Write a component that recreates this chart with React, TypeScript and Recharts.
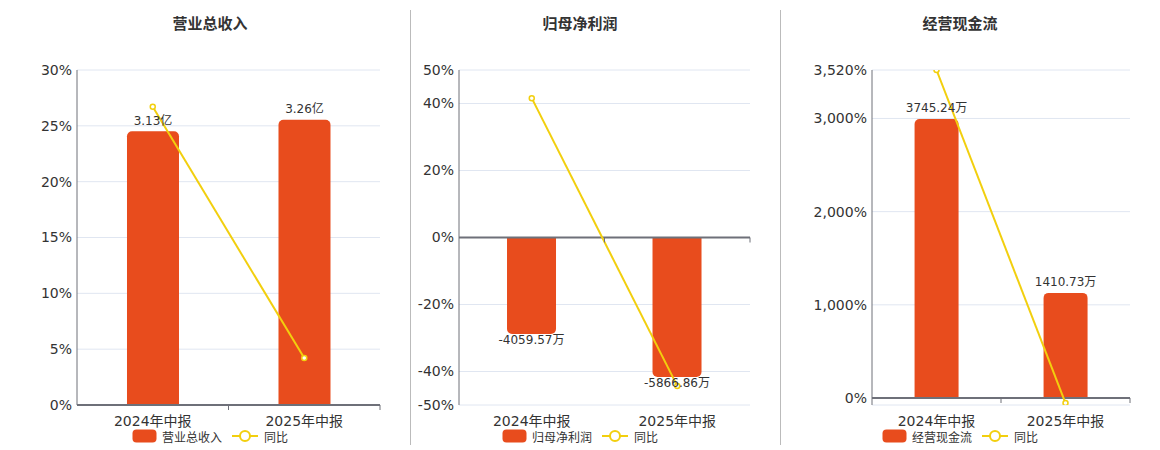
import React from 'react';
import { ComposedChart, Bar, Line, XAxis, YAxis, CartesianGrid, ReferenceLine, LabelList } from 'recharts';

const categories = ['2024年中报', '2025年中报'];

const revenue = [3.13, 3.26];
const revenueLabels = ['3.13亿', '3.26亿'];
const revenueYoy = [26.7, 4.2];
const revenueTicks = [0, 5, 10, 15, 20, 25, 30];

const profit = [-4059.57, -5866.86];
const profitLabels = ['-4059.57万', '-5866.86万'];
const profitYoy = [41.6, -44.3];
const profitTicks = [-50, -40, -20, 0, 20, 40, 50];

const cash = [3745.24, 1410.73];
const cashLabels = ['3745.24万', '1410.73万'];
const cashYoy = [3520, -54];
const cashTicks = [-75, 0, 1000, 2000, 3000, 3520];
const hiddenTickValues = [-75];

const BAR_COLOR = '#E84C1D';
const LINE_COLOR = '#F2CF0E';
const AXIS_COLOR = '#6E7079';
const GRID_COLOR = '#E0E6F1';
const TEXT_COLOR = '#333';

const PLOT_TOP = 70;
const PLOT_BOTTOM = 405;

const buildData = (bars: number[], yoy: number[]) =>
  categories.map((name, i) => ({ name, bar: bars[i], yoy: yoy[i] }));

const RoundedBar = (props: any) => {
  const { x, y, width, height, fill, payload } = props;
  if (width == null || height == null) return null;
  const top = Math.min(y, y + height);
  const h = Math.abs(height);
  const r = Math.min(5, h / 2, width / 2);
  const neg = payload && payload.bar < 0;
  const x2 = x + width;
  const b = top + h;
  let d: string;
  if (!neg) {
    d = `M${x},${b} L${x},${top + r} A${r},${r} 0 0 1 ${x + r},${top} L${x2 - r},${top} A${r},${r} 0 0 1 ${x2},${top + r} L${x2},${b} Z`;
  } else {
    d = `M${x},${top} L${x2},${top} L${x2},${b - r} A${r},${r} 0 0 1 ${x2 - r},${b} L${x + r},${b} A${r},${r} 0 0 1 ${x},${b - r} Z`;
  }
  return <path d={d} fill={fill} />;
};

const makeLabel = (labels: string[]) => (props: any) => {
  const { x, y, width, height, index, value } = props;
  const top = Math.min(y, y + height);
  const bottom = Math.max(y, y + height);
  const neg = value < 0;
  const ty = neg ? bottom + 10 : top - 6.5;
  return (
    <text x={x + width / 2} y={ty} textAnchor="middle" fontSize={12} fill={TEXT_COLOR}>
      {labels[index]}
    </text>
  );
};

const fmtPct = (v: number) => (hiddenTickValues.includes(v) ? '' : v.toLocaleString('en-US') + '%');

const XTick = (props: any) => {
  const { x, y, payload, width, visibleTicksCount, domain } = props;
  let band = 0;
  if (typeof width === 'number' && visibleTicksCount) band = width / visibleTicksCount;
  else if (payload && payload.offset) band = payload.offset * 2;
  const [min, max] = domain || [0, 1];
  const zeroY = PLOT_BOTTOM - ((0 - min) / (max - min)) * (PLOT_BOTTOM - PLOT_TOP);
  const bx = x + band / 2;
  return (
    <g>
      {band > 0 && (
        <line x1={bx} y1={zeroY} x2={bx} y2={zeroY + 5} stroke={AXIS_COLOR} strokeWidth={1} />
      )}
      <text x={x} y={y + 13} textAnchor="middle" fontSize={14} fill={TEXT_COLOR}>
        {payload.value}
      </text>
    </g>
  );
};

type PanelProps = {
  title: string;
  legendName: string;
  left: number;
  width: number;
  yWidth: number;
  center: number;
  data: any[];
  labels: string[];
  pctDomain: number[];
  pctTicks: number[];
  barDomain: number[];
};

const Legend = ({ name, center }: { name: string; center: number }) => (
  <div
    style={{
      position: 'absolute',
      left: center - 150,
      width: 300,
      top: 428,
      display: 'flex',
      justifyContent: 'center',
      alignItems: 'center',
      fontSize: 12,
      color: TEXT_COLOR,
      height: 16,
    }}
  >
    <svg width={25} height={14} style={{ marginRight: 5 }}>
      <rect x={0.5} y={0.5} width={24} height={13} rx={4} fill={BAR_COLOR} />
    </svg>
    <span style={{ marginRight: 10 }}>{name}</span>
    <svg width={26} height={14} style={{ marginRight: 6 }}>
      <line x1={0} y1={7} x2={26} y2={7} stroke={LINE_COLOR} strokeWidth={2} />
      <circle cx={13} cy={7} r={5} fill="#fff" stroke={LINE_COLOR} strokeWidth={2} />
    </svg>
    <span>同比</span>
  </div>
);

const Panel = (p: PanelProps) => (
  <>
    <div
      style={{
        position: 'absolute',
        left: p.center - 100,
        width: 200,
        top: 12,
        textAlign: 'center',
        fontSize: 15,
        fontWeight: 'bold',
        color: TEXT_COLOR,
      }}
    >
      {p.title}
    </div>
    <div style={{ position: 'absolute', left: p.left, top: 0 }}>
      <ComposedChart
        width={p.width}
        height={450}
        data={p.data}
        margin={{ top: PLOT_TOP, right: 30, bottom: 25, left: 0 }}
        barCategoryGap="33%"
      >
        <CartesianGrid vertical={false} stroke={GRID_COLOR} yAxisId="pct" />
        <XAxis
          dataKey="name"
          axisLine={false}
          tickLine={false}
          height={20}
          interval={0}
          tick={<XTick domain={p.pctDomain} />}
        />
        <YAxis
          yAxisId="pct"
          type="number"
          domain={p.pctDomain}
          ticks={p.pctTicks}
          allowDataOverflow
          width={p.yWidth}
          tickFormatter={fmtPct}
          axisLine={{ stroke: AXIS_COLOR }}
          tickLine={false}
          tickSize={0}
          tickMargin={5}
          tick={{ fontSize: 14, fill: TEXT_COLOR }}
        />
        <YAxis
          yAxisId="bar"
          orientation="right"
          type="number"
          domain={p.barDomain}
          allowDataOverflow
          hide
          width={0}
        />
        <ReferenceLine y={0} yAxisId="pct" stroke={AXIS_COLOR} strokeWidth={2} />
        <Bar
          dataKey="bar"
          yAxisId="bar"
          fill={BAR_COLOR}
          shape={<RoundedBar />}
          isAnimationActive={false}
        >
          <LabelList dataKey="bar" content={makeLabel(p.labels)} />
        </Bar>
        <Line
          dataKey="yoy"
          yAxisId="pct"
          type="linear"
          stroke={LINE_COLOR}
          strokeWidth={2}
          dot={{ r: 2.5, fill: '#fff', stroke: LINE_COLOR, strokeWidth: 1.5 }}
          activeDot={false}
          isAnimationActive={false}
        />
      </ComposedChart>
    </div>
    <Legend name={p.legendName} center={p.center} />
  </>
);

export default function App() {
  return (
    <div
      style={{
        position: 'absolute',
        left: 0,
        top: 0,
        width: 1160,
        height: 450,
        background: '#fff',
        fontFamily: "'DejaVu Sans', 'Noto Sans CJK SC', sans-serif",
      }}
    >
      <Panel
        title="营业总收入"
        legendName="营业总收入"
        left={0}
        width={410}
        yWidth={77}
        center={210}
        data={buildData(revenue, revenueYoy)}
        labels={revenueLabels}
        pctDomain={[0, 30]}
        pctTicks={revenueTicks}
        barDomain={[0, 3.83]}
      />
      <Panel
        title="归母净利润"
        legendName="归母净利润"
        left={410}
        width={370}
        yWidth={49}
        center={580}
        data={buildData(profit, profitYoy)}
        labels={profitLabels}
        pctDomain={[-50, 50]}
        pctTicks={profitTicks}
        barDomain={[-7050, 7050]}
      />
      <Panel
        title="经营现金流"
        legendName="经营现金流"
        left={780}
        width={380}
        yWidth={92}
        center={960}
        data={buildData(cash, cashYoy)}
        labels={cashLabels}
        pctDomain={[-75, 3520]}
        pctTicks={cashTicks}
        barDomain={[-94, 4403]}
      />
      <div style={{ position: 'absolute', left: 410, top: 10, width: 1, height: 435, background: '#bbb' }} />
      <div style={{ position: 'absolute', left: 780, top: 10, width: 1, height: 435, background: '#bbb' }} />
    </div>
  );
}
